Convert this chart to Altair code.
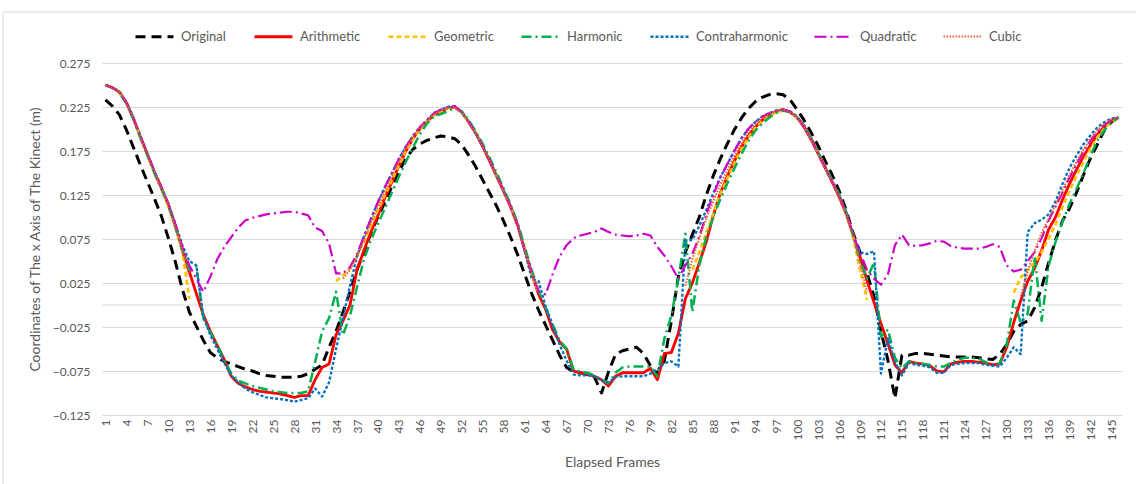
import altair as alt
import pandas as pd

# Elapsed frame index for every sample
frames = list(range(1, 147))

# x coordinate (m) of the tracked joint: raw signal and six moving-mean filters
original = [
    0.233, 0.226, 0.216, 0.199, 0.179, 0.159, 0.140, 0.121, 0.101, 0.076,
    0.049, 0.018, -0.008, -0.024, -0.040, -0.054, -0.060, -0.064, -0.067, -0.070,
    -0.073, -0.075, -0.078, -0.080, -0.081, -0.082, -0.082, -0.082, -0.081, -0.078,
    -0.073, -0.068, -0.048, -0.030, -0.008, 0.015, 0.040, 0.060, 0.082, 0.100,
    0.117, 0.135, 0.152, 0.166, 0.177, 0.183, 0.187, 0.190, 0.192, 0.191,
    0.189, 0.182, 0.170, 0.157, 0.142, 0.127, 0.112, 0.095, 0.077, 0.057,
    0.035, 0.013, -0.006, -0.023, -0.040, -0.057, -0.071, -0.076, -0.077, -0.079,
    -0.082, -0.100, -0.076, -0.056, -0.052, -0.050, -0.048, -0.055, -0.069, -0.078,
    -0.063, -0.018, 0.032, 0.060, 0.080, 0.100, 0.125, 0.147, 0.166, 0.183,
    0.199, 0.212, 0.223, 0.231, 0.236, 0.239, 0.240, 0.239, 0.233, 0.222,
    0.210, 0.196, 0.181, 0.164, 0.148, 0.130, 0.108, 0.082, 0.060, 0.036,
    0.010, -0.030, -0.063, -0.106, -0.057, -0.057, -0.055, -0.055, -0.056, -0.057,
    -0.058, -0.059, -0.059, -0.059, -0.059, -0.060, -0.061, -0.062, -0.056, -0.045,
    -0.030, -0.022, -0.018, -0.003, 0.020, 0.048, 0.074, 0.096, 0.110, 0.128,
    0.148, 0.167, 0.183, 0.199, 0.208, 0.213,
]

arithmetic = [
    0.250, 0.247, 0.242, 0.230, 0.212, 0.191, 0.171, 0.151, 0.133, 0.114,
    0.090, 0.062, 0.038, 0.013, -0.011, -0.030, -0.046, -0.062, -0.081, -0.089,
    -0.093, -0.096, -0.098, -0.099, -0.100, -0.101, -0.103, -0.105, -0.103, -0.103,
    -0.085, -0.071, -0.067, -0.034, -0.018, 0.000, 0.040, 0.062, 0.083, 0.102,
    0.122, 0.140, 0.158, 0.175, 0.189, 0.200, 0.208, 0.216, 0.219, 0.224,
    0.225, 0.219, 0.208, 0.195, 0.180, 0.163, 0.146, 0.129, 0.111, 0.090,
    0.063, 0.036, 0.012, -0.005, -0.028, -0.042, -0.050, -0.075, -0.077, -0.079,
    -0.081, -0.085, -0.092, -0.081, -0.077, -0.077, -0.077, -0.077, -0.072, -0.085,
    -0.055, -0.054, -0.032, 0.007, 0.025, 0.048, 0.072, 0.102, 0.127, 0.146,
    0.163, 0.179, 0.192, 0.202, 0.210, 0.216, 0.220, 0.222, 0.219, 0.213,
    0.202, 0.188, 0.172, 0.156, 0.140, 0.123, 0.104, 0.080, 0.055, 0.028,
    0.003, -0.021, -0.044, -0.068, -0.077, -0.064, -0.066, -0.067, -0.069, -0.075,
    -0.076, -0.067, -0.065, -0.064, -0.064, -0.065, -0.066, -0.068, -0.067, -0.048,
    -0.020, 0.005, 0.027, 0.042, 0.062, 0.086, 0.100, 0.120, 0.138, 0.154,
    0.169, 0.182, 0.194, 0.203, 0.209, 0.213,
]

# None marks frames where the mean is undefined (negative samples in the window)
geometric = [
    0.250, 0.247, 0.241, 0.229, 0.211, 0.190, 0.170, 0.150, 0.132, 0.112,
    0.088, 0.062, 0.007, None, None, None, None, None, None, None,
    None, None, None, None, None, None, None, None, None, None,
    None, None, None, 0.027, 0.034, 0.042, 0.056, 0.072, 0.090, 0.108,
    0.125, 0.142, 0.159, 0.175, 0.189, 0.200, 0.208, 0.216, 0.220, 0.224,
    0.225, 0.219, 0.208, 0.196, 0.181, 0.164, 0.147, 0.130, 0.112, 0.091,
    0.064, 0.036, 0.014, None, None, None, None, None, None, None,
    None, None, None, None, None, None, None, None, None, None,
    None, None, None, None, 0.040, 0.060, 0.082, 0.104, 0.126, 0.144,
    0.161, 0.177, 0.190, 0.201, 0.209, 0.215, 0.219, 0.221, 0.219, 0.213,
    0.203, 0.189, 0.173, 0.157, 0.141, 0.124, 0.104, 0.078, 0.040, 0.006,
    None, None, None, None, None, None, None, None, None, None,
    None, None, None, None, None, None, None, None, None, None,
    0.014, 0.031, 0.040, 0.048, 0.060, 0.076, 0.092, 0.112, 0.130, 0.147,
    0.163, 0.178, 0.191, 0.201, 0.208, 0.212,
]

harmonic = [
    0.250, 0.247, 0.241, 0.229, 0.211, 0.190, 0.170, 0.150, 0.132, 0.113,
    0.089, 0.063, 0.040, 0.044, -0.015, -0.031, -0.046, -0.062, -0.078, -0.086,
    -0.089, -0.092, -0.094, -0.096, -0.098, -0.099, -0.100, -0.100, -0.100, -0.098,
    -0.065, -0.030, -0.015, 0.015, -0.034, -0.012, 0.020, 0.052, 0.074, 0.092,
    0.110, 0.128, 0.146, 0.163, 0.179, 0.194, 0.206, 0.214, 0.217, 0.220,
    0.224, 0.220, 0.210, 0.197, 0.183, 0.167, 0.150, 0.132, 0.114, 0.093,
    0.066, 0.040, 0.016, -0.003, -0.022, -0.040, -0.050, -0.073, -0.076, -0.077,
    -0.080, -0.085, -0.089, -0.077, -0.071, -0.070, -0.070, -0.070, -0.070, -0.081,
    -0.038, -0.012, 0.030, 0.081, -0.008, 0.045, 0.078, 0.100, 0.120, 0.138,
    0.155, 0.171, 0.186, 0.198, 0.206, 0.213, 0.218, 0.221, 0.219, 0.214,
    0.204, 0.190, 0.174, 0.158, 0.142, 0.126, 0.106, 0.080, 0.050, 0.030,
    0.048, -0.036, -0.028, -0.060, -0.072, -0.064, -0.066, -0.067, -0.068, -0.070,
    -0.070, -0.066, -0.062, -0.060, -0.060, -0.061, -0.065, -0.069, -0.066, -0.045,
    0.005, -0.020, -0.010, 0.055, -0.018, 0.045, 0.072, 0.095, 0.115, 0.132,
    0.150, 0.170, 0.187, 0.199, 0.208, 0.213,
]

contraharmonic = [
    0.250, 0.247, 0.242, 0.230, 0.212, 0.192, 0.172, 0.152, 0.134, 0.115,
    0.092, 0.068, 0.050, 0.045, -0.013, -0.034, -0.050, -0.066, -0.080, -0.088,
    -0.095, -0.099, -0.102, -0.105, -0.106, -0.107, -0.108, -0.110, -0.108, -0.106,
    -0.095, -0.104, -0.088, -0.050, -0.015, 0.022, 0.055, 0.078, 0.098, 0.117,
    0.134, 0.150, 0.166, 0.180, 0.192, 0.202, 0.210, 0.218, 0.222, 0.225,
    0.226, 0.219, 0.208, 0.195, 0.180, 0.164, 0.147, 0.130, 0.112, 0.091,
    0.062, 0.030, 0.027, -0.002, -0.023, -0.045, -0.063, -0.079, -0.080, -0.080,
    -0.081, -0.086, -0.088, -0.082, -0.081, -0.081, -0.081, -0.081, -0.078, -0.073,
    -0.066, -0.064, -0.070, 0.073, 0.074, 0.090, 0.108, 0.127, 0.145, 0.160,
    0.175, 0.189, 0.200, 0.208, 0.214, 0.218, 0.221, 0.222, 0.220, 0.214,
    0.203, 0.189, 0.173, 0.157, 0.141, 0.124, 0.105, 0.080, 0.060, 0.058,
    0.061, -0.078, -0.038, -0.065, -0.080, -0.066, -0.068, -0.069, -0.071, -0.077,
    -0.077, -0.068, -0.067, -0.066, -0.066, -0.066, -0.068, -0.069, -0.070, -0.060,
    -0.048, -0.056, 0.083, 0.093, 0.097, 0.103, 0.118, 0.138, 0.156, 0.170,
    0.183, 0.193, 0.202, 0.208, 0.212, 0.213,
]

quadratic = [
    0.250, 0.247, 0.242, 0.230, 0.212, 0.192, 0.172, 0.152, 0.134, 0.115,
    0.092, 0.066, 0.045, 0.030, 0.015, 0.032, 0.052, 0.066, 0.077, 0.088,
    0.096, 0.099, 0.101, 0.103, 0.104, 0.105, 0.106, 0.106, 0.104, 0.102,
    0.088, 0.084, 0.070, 0.036, 0.036, 0.043, 0.058, 0.078, 0.098, 0.117,
    0.134, 0.150, 0.166, 0.180, 0.192, 0.202, 0.210, 0.218, 0.222, 0.225,
    0.226, 0.219, 0.208, 0.195, 0.180, 0.164, 0.147, 0.130, 0.112, 0.091,
    0.062, 0.038, 0.015, 0.012, 0.035, 0.055, 0.068, 0.076, 0.079, 0.081,
    0.083, 0.087, 0.083, 0.080, 0.079, 0.078, 0.079, 0.081, 0.079, 0.066,
    0.056, 0.044, 0.030, 0.045, 0.058, 0.078, 0.103, 0.125, 0.145, 0.160,
    0.175, 0.189, 0.200, 0.208, 0.214, 0.218, 0.221, 0.222, 0.220, 0.214,
    0.203, 0.189, 0.173, 0.157, 0.141, 0.124, 0.105, 0.080, 0.058, 0.040,
    0.030, 0.023, 0.035, 0.068, 0.080, 0.068, 0.067, 0.068, 0.070, 0.073,
    0.072, 0.067, 0.065, 0.064, 0.064, 0.064, 0.066, 0.069, 0.066, 0.045,
    0.038, 0.040, 0.050, 0.060, 0.076, 0.096, 0.112, 0.128, 0.145, 0.160,
    0.175, 0.187, 0.197, 0.205, 0.210, 0.213,
]

cubic = [
    0.250, 0.247, 0.242, 0.230, 0.212, 0.191, 0.171, 0.151, 0.133, 0.114,
    0.090, 0.063, 0.032, None, None, None, None, None, None, None,
    None, None, None, None, None, None, None, None, None, None,
    None, None, None, None, 0.030, 0.040, 0.055, 0.074, 0.094, 0.112,
    0.129, 0.146, 0.163, 0.178, 0.191, 0.201, 0.209, 0.217, 0.221, 0.224,
    0.225, 0.219, 0.208, 0.195, 0.180, 0.164, 0.147, 0.130, 0.112, 0.091,
    0.063, 0.036, 0.018, None, None, None, None, None, None, None,
    None, None, None, None, None, None, None, None, None, None,
    None, None, None, 0.022, 0.052, 0.076, 0.098, 0.118, 0.137, 0.153,
    0.169, 0.184, 0.196, 0.205, 0.212, 0.217, 0.220, 0.222, 0.219, 0.214,
    0.203, 0.189, 0.173, 0.157, 0.141, 0.124, 0.104, 0.079, 0.048, 0.015,
    None, None, None, None, None, None, None, None, None, None,
    None, None, None, None, None, None, None, None, None, None,
    None, 0.010, 0.038, 0.062, 0.082, 0.098, 0.114, 0.131, 0.148, 0.163,
    0.177, 0.189, 0.199, 0.206, 0.211, 0.213,
]

series_names = ["Original", "Arithmetic", "Geometric", "Harmonic",
                "Contraharmonic", "Quadratic", "Cubic"]
series_values = [original, arithmetic, geometric, harmonic,
                 contraharmonic, quadratic, cubic]

# Line styling per series
colors = ["#000000", "#FF0000", "#FFC000", "#00B050", "#0070C0", "#CC00CC", "#F05A28"]
dashes = [[10, 6], [1, 0], [5, 3], [10, 4, 2, 4], [3, 2], [12, 4, 2, 4], [1.5, 1.5]]
widths = [3, 2, 2, 2, 3, 2, 1.8]

y_ticks = [-0.125, -0.075, -0.025, 0.025, 0.075, 0.125, 0.175, 0.225, 0.275]
x_ticks = list(range(1, 146, 3))

rows = []
for name, vals in zip(series_names, series_values):
    for f, v in zip(frames, vals):
        rows.append({"frame": f, "value": v, "series": name})
df = pd.DataFrame(rows)

font = "Lato"
grey = "#595959"
y_scale = alt.Scale(domain=[-0.125, 0.275], nice=False, zero=False)

x_enc = alt.X(
    "frame:Q",
    scale=alt.Scale(domain=[0.5, 146.5], nice=False, zero=False),
    axis=alt.Axis(values=x_ticks, labelAngle=270, grid=False, ticks=False,
                  domain=False, labelPadding=4, labelFontSize=12,
                  labelColor=grey, labelFont=font, title="Elapsed Frames",
                  titleFontSize=14, titleFontWeight="normal", titleColor=grey,
                  titleFont=font, titlePadding=16, labelAlign="right",
                  labelBaseline="middle"),
)
y_enc = alt.Y(
    "value:Q",
    scale=y_scale,
    axis=alt.Axis(values=y_ticks, format=".3f", grid=True, gridColor="#d9d9d9",
                  ticks=False, domain=False, labelPadding=12, labelFontSize=12,
                  labelColor=grey, labelFont=font,
                  title="Coordinates of The x Axis of The Kinect (m)",
                  titleFontSize=14, titleFontWeight="normal", titleColor=grey,
                  titleFont=font, titlePadding=10),
)

legend = alt.Legend(
    title=None, orient="none", legendX=32, legendY=-47, direction="horizontal",
    columns=7, symbolType="stroke", symbolSize=1444, labelFontSize=13,
    labelColor=grey, labelFont=font, labelOffset=6, columnPadding=22,
    padding=0,
)

base = alt.Chart(df).encode(
    x=x_enc,
    y=y_enc,
    color=alt.Color("series:N", scale=alt.Scale(domain=series_names, range=colors),
                    legend=legend),
    strokeDash=alt.StrokeDash("series:N", scale=alt.Scale(domain=series_names, range=dashes),
                              legend=legend),
    strokeWidth=alt.StrokeWidth("series:N", scale=alt.Scale(domain=series_names, range=widths),
                                legend=legend),
)

# Thin frame around the chart area
frame_box = alt.Chart(pd.DataFrame({"value": [0.0]})).mark_rect(
    fill="transparent", stroke="#d9d9d9", strokeWidth=1
).encode(x=alt.value(-99), x2=alt.value(1060), y=alt.value(-51), y2=alt.value(440))

# Horizontal line at zero
zero_line = alt.Chart(pd.DataFrame({"value": [0.0]})).mark_rule(
    color="#d9d9d9", strokeWidth=1
).encode(y=alt.Y("value:Q", scale=y_scale))

layers = [frame_box, zero_line]
for name in series_names:
    layers.append(
        base.transform_filter(alt.datum.series == name).mark_line(
            invalid="break-paths-show-domains", strokeJoin="round"
        )
    )

chart = alt.layer(*layers).properties(
    width=1020,
    height=352,
    padding={"left": 102, "top": 63, "right": 14, "bottom": 69},
    autosize=alt.AutoSizeParams(type="none"),
    background="white",
).configure_view(strokeWidth=0)

chart.save("out.html", embed_options={"renderer": "svg", "actions": False})
